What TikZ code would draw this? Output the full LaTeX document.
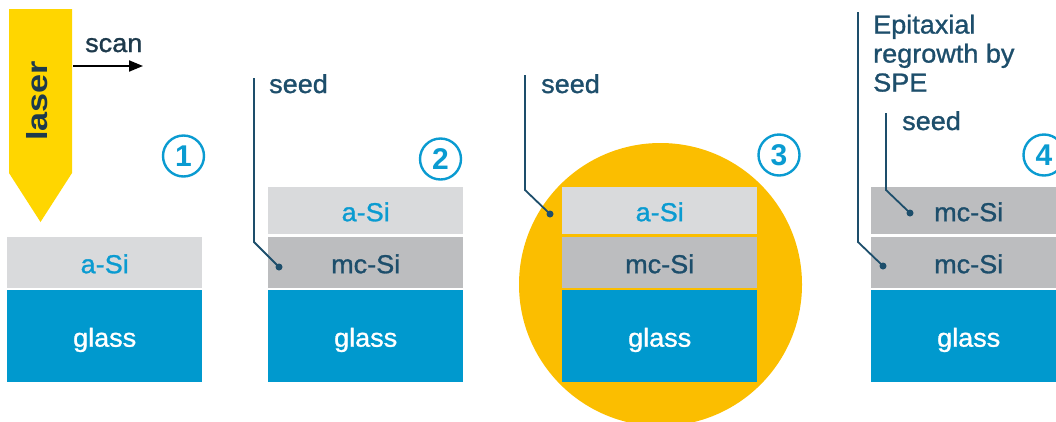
\documentclass[tikz,border=0pt]{standalone}
\usepackage{fontspec}
\setmainfont{Liberation Sans}
\newfontfamily\medfont{Liberation Sans}[FakeBold=1.1,FakeStretch=1.04]
\usetikzlibrary{arrows.meta}
\definecolor{navy}{HTML}{1D4E6B}
\definecolor{darktext}{HTML}{1E3A4C}
\definecolor{asi}{HTML}{D9DADC}
\definecolor{mcsi}{HTML}{BCBDBF}
\definecolor{glassc}{HTML}{0099CE}
\definecolor{numc}{HTML}{0A9BD1}
\definecolor{laserc}{HTML}{FFD600}
\definecolor{meltc}{HTML}{FBBE00}
\begin{document}
\begin{tikzpicture}[x=1pt,y=-1pt,
  txt/.style={font=\medfont\fontsize{26}{29}\selectfont},
  lay/.style={txt, anchor=north west, inner sep=0pt, minimum width=195pt, text height=21pt, text depth=0pt},
  asil/.style={lay, fill=asi, text=numc},
  mcl/.style={lay, fill=mcsi, text=navy},
  gll/.style={lay, fill=glassc, text=white, minimum height=92pt},
  num/.style={circle, draw=numc, line width=2.4pt, minimum size=41pt, inner sep=0pt, text=numc, font=\fontsize{30}{30}\selectfont\bfseries},
  lbl/.style={txt, text=navy, inner sep=0pt, anchor=base west},
  seedline/.style={draw=navy, line width=1.8pt},
  seeddot/.style={circle, fill=navy, inner sep=0pt, minimum size=7pt}]
\useasboundingbox (0,0) rectangle (1056,421);
\clip (0,0) rectangle (1056,421);
% laser
\fill[laserc] (9,9) -- (72,9) -- (72,173) -- (40.5,222) -- (9,173) -- cycle;
\node[rotate=90, text=darktext, inner sep=0pt, font=\fontsize{29}{29}\selectfont\bfseries] (laser) at (37.5,101) {\scalebox{1.18}[1]{laser}};
\coordinate (scanA) at (73,66);
\coordinate (scanB) at (143,66);
\draw[line width=2pt, -{Triangle[length=14pt,width=11pt]}] (scanA) -- (scanB);
\node[lbl, text=darktext] (scan) at (85,52) {scan};
% stack 1
\node[asil, minimum height=51pt] (a1) at (7,237) {a-Si};
\node[gll] (g1) at (7,290) {glass};
\node[num] (n1) at (183.5,156) {1};
% stack 2
\node[asil, minimum height=47pt] (a2) at (268,187) {a-Si};
\node[mcl, minimum height=51pt] (m2) at (268,237) {mc-Si};
\node[gll] (g2) at (268,290) {glass};
\node[num] (n2) at (440.5,159) {2};
\node[lbl] (s2) at (269,93) {seed};
\node[seeddot] (d2) at (279,267) {};
\coordinate (t2) at (254,78);
\coordinate (k2) at (254,242);
\draw[seedline] (t2) -- (k2) -- (d2.center);
% stack 3
\node[circle, fill=meltc, minimum size=283pt, inner sep=0pt] (melt) at (660.5,284.5) {};
\node[asil, minimum height=47pt] (a3) at (562,187) {a-Si};
\node[mcl, minimum height=51pt] (m3) at (562,237) {mc-Si};
\node[gll] (g3) at (562,290) {glass};
\node[num] (n3) at (779,155) {3};
\node[lbl] (s3) at (541,93) {seed};
\node[seeddot] (d3) at (550,214) {};
\coordinate (t3) at (525,75);
\coordinate (k3) at (525,190);
\draw[seedline] (t3) -- (k3) -- (d3.center);
% stack 4
\node[mcl, minimum height=47pt] (m4a) at (871,187) {mc-Si};
\node[mcl, minimum height=51pt] (m4b) at (871,237) {mc-Si};
\node[gll] (g4) at (871,290) {glass};
\node[num] (n4) at (1044,155) {4};
\node[lbl, anchor=north west, align=left] (epi) at (873,14.5) {Epitaxial\\regrowth by\\SPE};
\node[lbl] (s4) at (902,130) {seed};
\node[seeddot] (d4a) at (910,213) {};
\node[seeddot] (d4b) at (883,266) {};
\coordinate (t4a) at (886,113);
\coordinate (k4a) at (886,190);
\coordinate (t4b) at (858,12);
\coordinate (k4b) at (858,242);
\draw[seedline] (t4a) -- (k4a) -- (d4a.center);
\draw[seedline] (t4b) -- (k4b) -- (d4b.center);
\end{tikzpicture}
\end{document}
